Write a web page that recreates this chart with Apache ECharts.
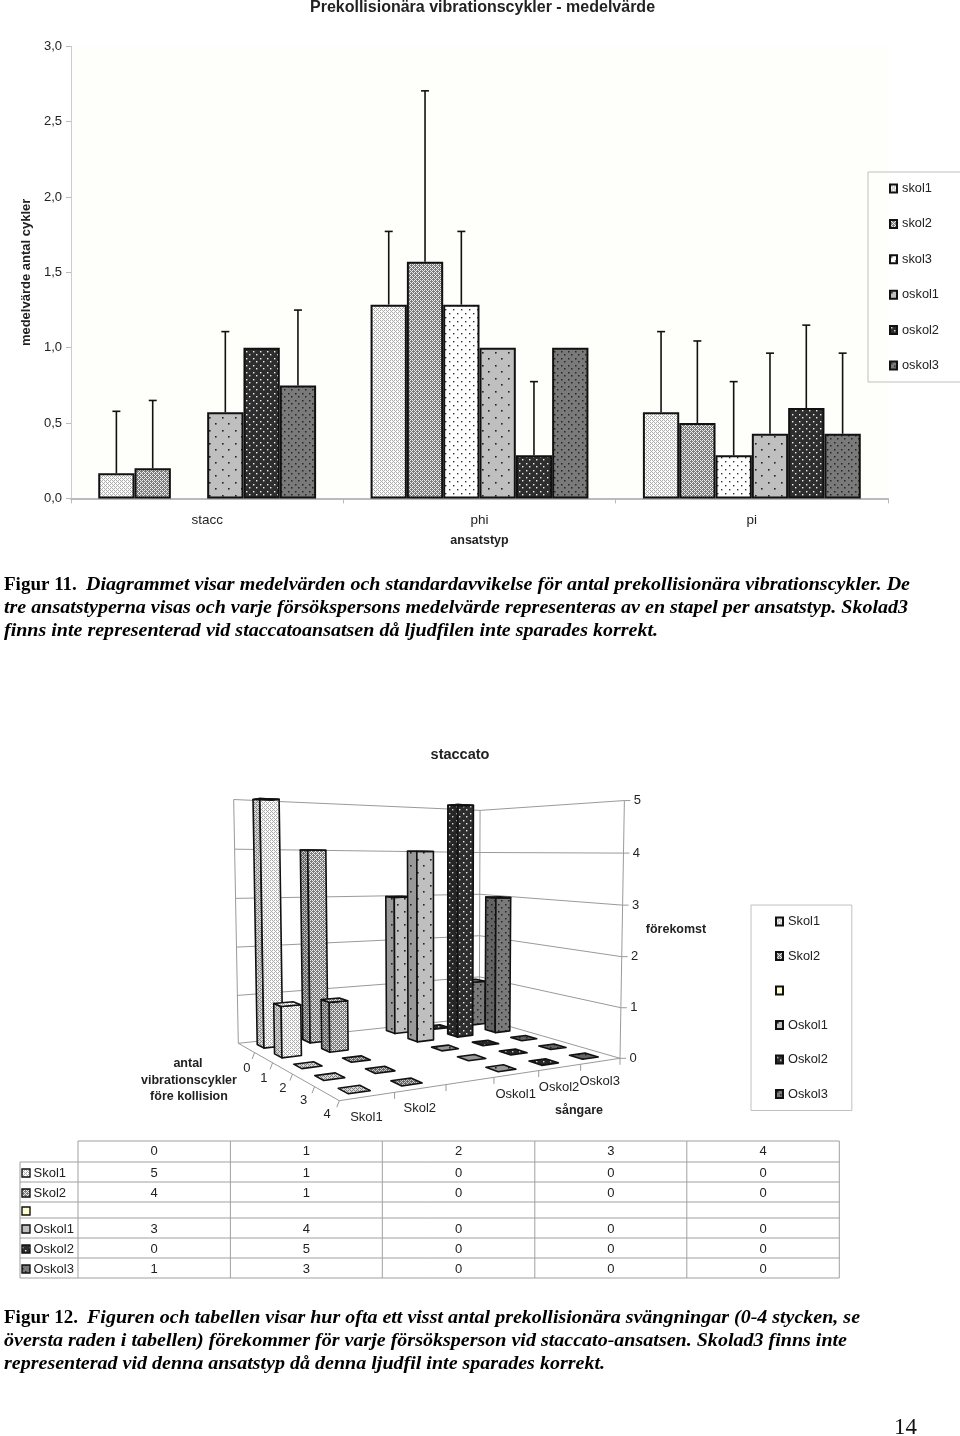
<!DOCTYPE html>
<html><head><meta charset="utf-8">
<style>html,body{margin:0;padding:0;background:#fff}#c{width:960px;height:1436px}</style>
<script src="https://cdn.jsdelivr.net/npm/echarts@6/dist/echarts.min.js"></script>
</head><body><div id="c"></div>
<script>
// ---------- data: chart 1 (means and error-bar tips) ----------
const categories = ['stacc', 'phi', 'pi'];
const barNames = ['skol1', 'skol2', 'skol3', 'oskol1', 'oskol2', 'oskol3'];
const skol1 = [0.167, 1.286, 0.571];
const skol2 = [0.2, 1.571, 0.5];
const skol3 = [null, 1.286, 0.286];
const oskol1 = [0.571, 1.0, 0.429];
const oskol2 = [1.0, 0.286, 0.6];
const oskol3 = [0.75, 1.0, 0.429];
const skol1Tip = [0.578, 1.772, 1.107];
const skol2Tip = [0.65, 2.705, 1.045];
const skol3Tip = [null, 1.772, 0.775];
const oskol1Tip = [1.107, null, 0.964];
const oskol2Tip = [null, 0.775, 1.15];
const oskol3Tip = [1.25, null, 0.964];
const yTicks = [0, 0.5, 1, 1.5, 2, 2.5, 3];

// ---------- data: chart 2 (counts per singer and number of cycles) ----------
const cycleCounts = [0, 1, 2, 3, 4];
const singers = ['Skol1', 'Skol2', ' ', 'Oskol1', 'Oskol2', 'Oskol3'];
const Skol1 = [5, 1, 0, 0, 0];
const Skol2 = [4, 1, 0, 0, 0];
const Skol3 = [];
const Oskol1 = [3, 4, 0, 0, 0];
const Oskol2 = [0, 5, 0, 0, 0];
const Oskol3 = [1, 3, 0, 0, 0];
const heightTicks = [0, 1, 2, 3, 4, 5];
const singerAxisLabels = ['Skol1', 'Skol2', '', 'Oskol1', 'Oskol2', 'Oskol3'];

// ---------- caption text ----------
const fig11Lines = [
  ['Figur 11.', 'Diagrammet visar medelvärden och standardavvikelse för antal prekollisionära vibrationscykler. De'],
  ['', 'tre ansatstyperna visas och varje försökspersons medelvärde representeras av en stapel per ansatstyp. Skolad3'],
  ['', 'finns inte representerad vid staccatoansatsen då ljudfilen inte sparades korrekt.']
];
const fig12Lines = [
  ['Figur 12.', 'Figuren och tabellen visar hur ofta ett visst antal prekollisionära svängningar (0-4 stycken, se'],
  ['', 'översta raden i tabellen) förekommer för varje försöksperson vid staccato-ansatsen. Skolad3 finns inte'],
  ['', 'representerad vid denna ansatstyp då denna ljudfil inte sparades korrekt.']
];

// ---------- fill patterns ----------
function tile(bg, dot, step, r, mesh) {
  const c = document.createElement('canvas');
  c.width = c.height = step;
  const g = c.getContext('2d');
  g.fillStyle = bg; g.fillRect(0, 0, step, step);
  g.fillStyle = dot;
  if (mesh) {
    g.fillRect(0, 0, 1, 1); g.fillRect(2, 0, 1, 1); g.fillRect(1, 1, 1, 1);
    g.fillRect(0, 2, 1, 1); g.fillRect(2, 2, 1, 1); g.fillRect(3, 3, 1, 1);
  } else {
    g.fillRect(1, 1, r, r);
    const h = Math.floor(step / 2);
    g.fillRect(1 + h, 1 + h, r, r);
  }
  return { image: c, repeat: 'repeat' };
}
const faceFills = [
  tile('#fbfbfb', '#adadad', 4, 1, true),
  tile('#7c7c7c', '#ececec', 4, 1, true),
  tile('#ffffff', '#333333', 8, 1.4),
  tile('#bfbfbf', '#222222', 13, 1.6),
  tile('#2e2e2e', '#f2f2f2', 7, 1.4),
  tile('#7a7a7a', '#262626', 7, 1.5)
];
const sideFills = [
  tile('#d6d6d6', '#808080', 4, 1, true),
  tile('#666666', '#c8c8c8', 4, 1, true),
  tile('#ffffcc', '#ffffcc', 8, 1),
  tile('#999999', '#222222', 13, 1.6),
  tile('#262626', '#cfcfcf', 7, 1.4),
  tile('#636363', '#222222', 7, 1.5)
];
const blankFill = '#ffffcc';
const ink = '#111';
const textInk = '#222';
const sans = '"Liberation Sans"';

// ---------- perspective for the 3D columns: wall corners in page pixels ----------
const L0 = [238.3, 1043.3], L5 = [234, 802.7];
const B0 = [479.3, 1017.7], B5 = [479.3, 808.7];
const R0 = [620, 1058.3], R5 = [625, 799.3];
const F0 = [339.3, 1100.7];
const cam = (function () {
  const [x0, y0] = L0, [x1, y1] = B0, [x2, y2] = R0, [x3, y3] = F0;
  const dx1 = x1 - x2, dx2 = x3 - x2, sx = x0 - x1 + x2 - x3;
  const dy1 = y1 - y2, dy2 = y3 - y2, sy = y0 - y1 + y2 - y3;
  const den = dx1 * dy2 - dx2 * dy1;
  const g = (sx * dy2 - dx2 * sy) / den, h = (dx1 * sy - sx * dy1) / den;
  const a = x1 - x0 + g * x1, b = x3 - x0 + h * x3, c = x0;
  const d = y1 - y0 + g * y1, e = y3 - y0 + h * y3, f = y0;
  const floor = (u, v) => [a * u + b * v + c, d * u + e * v + f, g * u + h * v + 1];
  // least squares for the height column from the three wall tops
  const rows = [];
  [[0, 0, L5], [1, 0, B5], [1, 1, R5]].forEach(([u, v, t]) => {
    const [X, Y, W] = floor(u, v);
    rows.push([1, 0, -t[0], t[0] * W - X], [0, 1, -t[1], t[1] * W - Y]);
  });
  const M = [0, 1, 2].map(i => [0, 1, 2, 3].map(j => rows.reduce((s, r) => s + r[i] * r[j], 0)));
  for (let i = 0; i < 3; i++) {
    for (let k = 0; k < 3; k++) {
      if (k === i) continue;
      const m = M[k][i] / M[i][i];
      for (let j = i; j < 4; j++) M[k][j] -= m * M[i][j];
    }
  }
  return { floor, cx: M[0][3] / M[0][0], cy: M[1][3] / M[1][1], cz: M[2][3] / M[2][2] };
})();
function project(u, v, height) {
  const [X, Y, W] = cam.floor(u, v), t = height / 5;
  const w = W + t * cam.cz;
  return [(X + t * cam.cx) / w, (Y + t * cam.cy) / w];
}

function columnRenderer(i) {
  return function (params, api) {
    const j = api.value(0), val = api.value(1);
    const uc = (i + 0.5) / singers.length, vc = (j + 0.5) / cycleCounts.length;
    const hu = 0.4 / 2 / singers.length, hv = 0.4 / 2 / cycleCounts.length;
    const u0 = uc - hu, u1 = uc + hu, v0 = vc - hv, v1 = vc + hv;
    const z2 = 10 + j * 20 - i;
    const line = { stroke: ink, lineWidth: 1.6, lineJoin: 'round' };
    const poly = (pts, fill) => ({
      type: 'polygon', z2, shape: { points: pts },
      style: Object.assign({ fill }, line)
    });
    const top = poly([project(u0, v0, val), project(u1, v0, val), project(u1, v1, val), project(u0, v1, val)],
      val === 0 ? sideFills[i] : faceFills[i]);
    if (val === 0) return { type: 'group', children: [top] };
    return {
      type: 'group', children: [
        poly([project(u0, v0, 0), project(u0, v1, 0), project(u0, v1, val), project(u0, v0, val)], sideFills[i]),
        poly([project(u0, v1, 0), project(u1, v1, 0), project(u1, v1, val), project(u0, v1, val)], faceFills[i]),
        top
      ]
    };
  };
}

function wallsRenderer() {
  const wall = { stroke: '#9a9a9a', lineWidth: 1, fill: null };
  const kids = [];
  const pl = pts => kids.push({ type: 'polyline', shape: { points: pts }, style: wall });
  const txt = (x, y, text, extra) => kids.push({
    type: 'text', style: Object.assign({ x, y, text, fill: textInk, font: '13px ' + sans, align: 'center', verticalAlign: 'middle' }, extra || {})
  });
  heightTicks.forEach(h => {
    const L = project(0, 0, h), B = project(1, 0, h), R = project(1, 1, h);
    pl([L, B, R]);
    pl([R, [R[0] + 6, R[1]]]);
    txt(R[0] + 13, R[1], String(h));
  });
  pl([project(0, 0, 0), project(0, 0, 5)]);
  pl([project(1, 0, 0), project(1, 0, 5)]);
  pl([project(1, 1, 0), project(1, 1, 5)]);
  pl([project(0, 0, 0), project(0, 1, 0), project(1, 1, 0)]);
  for (let k = 0; k < cycleCounts.length; k++) {
    const p = project(0, (k + 1) / cycleCounts.length, 0);
    pl([p, [p[0] - 2.5, p[1] + 6.5]]);
    const q = project(0, (k + 0.5) / cycleCounts.length, 0);
    txt(q[0] + 0.5, q[1] + 20.5, String(cycleCounts[k]));
  }
  for (let k = 0; k < singers.length; k++) {
    const p = project((k + 1) / singers.length, 1, 0);
    pl([p, [p[0], p[1] + 6.5]]);
    const q = project((k + 0.5) / singers.length, 1, 0);
    if (singerAxisLabels[k]) txt(q[0] - 1, q[1] + 20.5, singerAxisLabels[k]);
  }
  const bold = { font: 'bold 12.5px ' + sans };
  txt(676, 930, 'förekomst', bold);
  txt(579, 1111, 'sångare', bold);
  txt(188, 1064, 'antal', bold);
  txt(189, 1081, 'vibrationscykler', bold);
  txt(189, 1097, 'före kollision', bold);
  return { type: 'group', children: kids };
}

// ---------- data table under the 3D chart ----------
const tableRows = [Skol1, Skol2, Skol3, Oskol1, Oskol2, Oskol3];
const tableX = [20, 78, 230.4, 382.3, 534.8, 686.8, 839.3];
const tableY = [1141, 1162, 1182, 1202, 1218, 1238, 1258, 1278];
function tableRenderer() {
  const kids = [];
  const ln = (x1, y1, x2, y2) => kids.push({ type: 'line', shape: { x1, y1, x2, y2 }, style: { stroke: '#a0a0a0', lineWidth: 1 } });
  const txt = (x, y, text, align) => kids.push({
    type: 'text', style: { x, y, text: String(text), fill: textInk, font: '13px ' + sans, align, verticalAlign: 'middle' }
  });
  tableY.forEach((y, r) => ln(r === 0 ? tableX[1] : tableX[0], y, tableX[6], y));
  tableX.forEach((x, c) => ln(x, c === 0 ? tableY[1] : tableY[0], x, tableY[7]));
  cycleCounts.forEach((n, c) => txt((tableX[c + 1] + tableX[c + 2]) / 2, (tableY[0] + tableY[1]) / 2, n, 'center'));
  tableRows.forEach((row, r) => {
    const yc = (tableY[r + 1] + tableY[r + 2]) / 2 + 1.5;
    kids.push({
      type: 'rect', shape: { x: 22, y: yc - 4.5, width: 8, height: 8 },
      style: { fill: r === 2 ? blankFill : faceFills[r], stroke: ink, lineWidth: 1.4 }
    });
    txt(33.5, yc, singers[r], 'left');
    row.forEach((v, c) => txt((tableX[c + 1] + tableX[c + 2]) / 2, yc, v, 'center'));
  });
  return { type: 'group', children: kids };
}

// ---------- captions, stretched to the reference's justified line ends ----------
const meas = document.createElement('canvas').getContext('2d');
const boldFont = 'bold 19px "Liberation Serif"';
const italicFont = 'italic bold 19px "Liberation Serif"';
function captionGraphic(lines, baselines, ends, startX) {
  const out = [];
  lines.forEach((ln, k) => {
    const x0 = ln[0] ? startX : 4;
    if (ln[0]) {
      out.push({ type: 'text', x: 4, y: baselines[k], silent: true,
        style: { x: 0, y: 0, text: ln[0], font: boldFont, fill: '#000', verticalAlign: 'bottom', lineHeight: 22 } });
    }
    meas.font = italicFont;
    const sc = (ends[k] - x0) / meas.measureText(ln[1]).width;
    out.push({ type: 'text', x: x0, y: baselines[k], scaleX: sc, silent: true,
      style: { x: 0, y: 0, text: ln[1], font: italicFont, fill: '#000', verticalAlign: 'bottom', lineHeight: 22 } });
  });
  return out;
}

// ---------- option ----------
const barValues = [skol1, skol2, skol3, oskol1, oskol2, oskol3];
const tipValues = [skol1Tip, skol2Tip, skol3Tip, oskol1Tip, oskol2Tip, oskol3Tip];
const errorData = [];
tipValues.forEach((tips, s) => tips.forEach((t, c) => {
  if (t !== null) errorData.push([c, s, t, barValues[s][c]]);
}));
const columnValues = [Skol1, Skol2, Skol3, Oskol1, Oskol2, Oskol3];

const option = {
  animation: false,
  backgroundColor: '#ffffff',
  title: [
    { text: 'Prekollisionära vibrationscykler - medelvärde', left: 482.5, top: 0, textAlign: 'center', padding: 0,
      textStyle: { fontFamily: sans, fontWeight: 'bold', fontSize: 16, color: textInk } },
    { text: 'staccato', left: 460, top: 747, textAlign: 'center', padding: 0,
      textStyle: { fontFamily: sans, fontWeight: 'bold', fontSize: 14.5, color: textInk } }
  ],
  grid: { left: 71, width: 817, top: 46.4, height: 452, show: true, backgroundColor: '#fefefa', borderWidth: 0 },
  xAxis: {
    type: 'category', data: categories,
    axisLine: { lineStyle: { color: '#bbbbbb', width: 2 } },
    axisTick: { show: true, length: 5, lineStyle: { color: '#bbbbbb' } },
    axisLabel: { margin: 15, color: textInk, fontFamily: sans, fontSize: 13.5 },
    name: 'ansatstyp', nameLocation: 'middle', nameGap: 36,
    nameTextStyle: { color: textInk, fontFamily: sans, fontWeight: 'bold', fontSize: 12.5 }
  },
  yAxis: {
    type: 'value', min: yTicks[0], max: yTicks[yTicks.length - 1], interval: yTicks[1] - yTicks[0],
    axisLine: { show: true, lineStyle: { color: '#cccccc', width: 1 } },
    axisTick: { show: true, length: 5, lineStyle: { color: '#bbbbbb' } },
    splitLine: { show: false },
    axisLabel: { margin: 9, color: textInk, fontFamily: sans, fontSize: 13, formatter: v => v.toFixed(1).replace('.', ',') },
    name: 'medelvärde antal cykler', nameLocation: 'middle', nameGap: 34, nameRotate: 90,
    nameTextStyle: { color: textInk, fontFamily: sans, fontWeight: 'bold', fontSize: 13 }
  },
  legend: [
    { data: barNames, orient: 'vertical', left: 868, top: 172, itemWidth: 7, itemHeight: 8, itemGap: 22.4, icon: 'rect',
      padding: [10, 40, 10, 21], borderColor: '#c0c0c0', borderWidth: 1, selectedMode: false,
      textStyle: { color: textInk, fontFamily: sans, fontSize: 12.8 } },
    { data: singers, orient: 'vertical', left: 751, top: 905, itemWidth: 7, itemHeight: 8, itemGap: 21.5, icon: 'rect',
      padding: [10, 24, 10, 24], borderColor: '#c0c0c0', borderWidth: 1, selectedMode: false,
      textStyle: { color: textInk, fontFamily: sans, fontSize: 12.8 } }
  ],
  graphic: { elements: [
    ...captionGraphic(fig11Lines, [596, 619, 642], [910, 908, 658], 86),
    ...captionGraphic(fig12Lines, [1329, 1352, 1375], [860, 847, 605], 87),
    { type: 'text', x: 894, y: 1439, silent: true,
      style: { x: 0, y: 0, text: '14', font: '23px "Liberation Serif"', fill: '#111', verticalAlign: 'bottom' } }
  ] },
  series: [
    ...barNames.map((n, s) => ({
      type: 'bar', name: n, data: barValues[s], barGap: 0, barCategoryGap: '20%',
      itemStyle: { color: faceFills[s], borderColor: ink, borderWidth: 2 }
    })),
    {
      type: 'custom', name: 'error', coordinateSystem: 'cartesian2d', data: errorData, encode: { x: 0, y: 2 },
      renderItem(params, api) {
        const c = api.value(0), s = api.value(1);
        const tip = api.coord([c, api.value(2)]), base = api.coord([c, api.value(3)]);
        const band = api.size([1, 0])[0];
        const x = tip[0] + (s - (barNames.length - 1) / 2) * band * 0.8 / barNames.length;
        const st = { stroke: ink, lineWidth: 1.6 };
        return { type: 'group', children: [
          { type: 'line', shape: { x1: x, y1: tip[1], x2: x, y2: base[1] }, style: st },
          { type: 'line', shape: { x1: x - 4, y1: tip[1], x2: x + 4, y2: tip[1] }, style: st }
        ] };
      }
    },
    { type: 'custom', name: 'walls', coordinateSystem: 'none', data: [[0]], silent: true, renderItem: wallsRenderer },
    ...singers.map((n, i) => ({
      type: 'custom', name: n, coordinateSystem: 'none', silent: true,
      data: columnValues[i].map((v, j) => [j, v]),
      itemStyle: { color: i === 2 ? blankFill : faceFills[i], borderColor: ink, borderWidth: 1.5 },
      renderItem: columnRenderer(i)
    })),
    { type: 'custom', name: 'table', coordinateSystem: 'none', data: [[0]], silent: true, renderItem: tableRenderer }
  ]
};
const chart = echarts.init(document.getElementById('c'), null, { renderer: 'canvas', width: 960, height: 1436 });
chart.setOption(option);
</script>
</body></html>
